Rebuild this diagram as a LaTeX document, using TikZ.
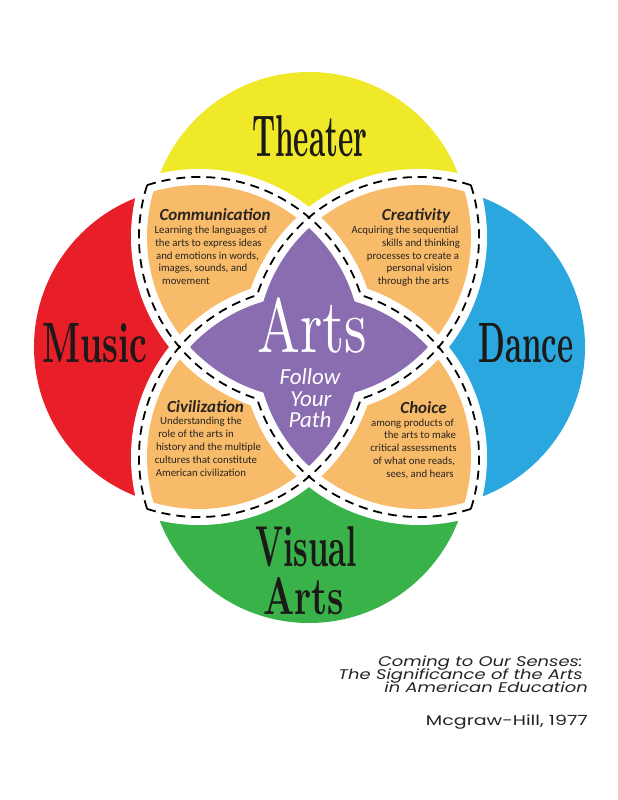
\documentclass[tikz,border=0pt]{standalone}
\usepackage{fontspec}
\usepackage{graphicx}
\newfontfamily\carlito{Carlito}
\newfontfamily\citefont{Poppins}
\definecolor{cyellow}{RGB}{240,233,42}
\definecolor{cred}{RGB}{232,30,40}
\definecolor{cblue}{RGB}{42,167,222}
\definecolor{cgreen}{RGB}{58,178,74}
\definecolor{corange}{RGB}{248,187,106}
\definecolor{cpurple}{RGB}{138,108,176}
\definecolor{headc}{RGB}{28,26,24}
\definecolor{textc}{RGB}{40,36,32}
\tikzset{
  dashline/.style={draw=black, line width=1.8pt, dash pattern=on 9pt off 6pt},
  heading/.style={anchor=base west, inner sep=0pt, text=headc, font=\bfseries},
  petaltitle/.style={anchor=base, inner sep=0pt, font=\carlito\bfseries\itshape\fontsize{17}{17}\selectfont, text=textc},
  petalline/.style={anchor=base, inner sep=0pt, font=\carlito\fontsize{10.8}{12}\selectfont, text=textc},
  pathline/.style={anchor=base, inner sep=0pt, font=\carlito\itshape\fontsize{23}{23}\selectfont, text=white},
  citeline/.style={anchor=base east, inner sep=0pt, text=textc},
}
\begin{document}
\begin{tikzpicture}[x=1pt,y=-1pt]
\useasboundingbox (0,0) rectangle (618,800);
\fill[white] (0,0) rectangle (618,800);
% coloured circles
\fill[cyellow] (309,232) circle[radius=160];
\fill[cred] (194,347) circle[radius=160];
\fill[cblue] (425,347) circle[radius=160];
\fill[cgreen] (309,463) circle[radius=160];
% centres of the dashed circles
\coordinate (T) at (309,237);
\coordinate (B) at (309,457);
\coordinate (L) at (199,347);
\coordinate (R) at (419,347);
% white halo of the petals
\foreach \a/\b in {T/L,T/R,B/L,B/R}{
  \begin{scope}
    \clip (\a) circle[radius=178];
    \fill[white] (\b) circle[radius=178];
  \end{scope}
}
% orange petals
\foreach \a/\b in {T/L,T/R,B/L,B/R}{
  \begin{scope}
    \clip (\a) circle[radius=162];
    \fill[corange] (\b) circle[radius=162];
  \end{scope}
}
% white halo of the centre
\foreach \a/\b/\c in {T/L/R,T/L/B,T/R/B,L/R/B}{
  \begin{scope}
    \clip (\a) circle[radius=178];
    \clip (\b) circle[radius=178];
    \fill[white] (\c) circle[radius=178];
  \end{scope}
}
% purple centre
\foreach \a/\b/\c in {T/L/R,T/L/B,T/R/B,L/R/B}{
  \begin{scope}
    \clip (\a) circle[radius=162];
    \clip (\b) circle[radius=162];
    \fill[cpurple] (\c) circle[radius=162];
  \end{scope}
}
% dashed outlines
\draw[dashline] (L) ++(-107.77:170) arc[start angle=-107.77, end angle=-17.77, radius=170];
\draw[dashline] (L) ++(107.77:170) arc[start angle=107.77, end angle=17.77, radius=170];
\draw[dashline] (R) ++(287.77:170) arc[start angle=287.77, end angle=197.77, radius=170];
\draw[dashline] (R) ++(72.23:170) arc[start angle=72.23, end angle=162.23, radius=170];
\draw[dashline] (T) ++(197.77:170) arc[start angle=197.77, end angle=107.77, radius=170];
\draw[dashline] (T) ++(-17.77:170) arc[start angle=-17.77, end angle=72.23, radius=170];
\draw[dashline] (B) ++(162.23:170) arc[start angle=162.23, end angle=252.23, radius=170];
\draw[dashline] (B) ++(17.77:170) arc[start angle=17.77, end angle=-72.23, radius=170];
% headings
\node[heading] (theater) at (252,156) {\resizebox{115pt}{41pt}{Theater}};
\node[heading] (music) at (42,362) {\resizebox{105pt}{39pt}{Music}};
\node[heading] (dance) at (478,362) {\resizebox{95pt}{39pt}{Dance}};
\node[heading] (visual) at (255,566) {\resizebox{102pt}{40pt}{Visual}};
\node[heading] (varts) at (263,614) {\resizebox{81pt}{37pt}{Arts}};
\node[heading, text=white, font=\mdseries] (arts) at (257,352) {\resizebox{110pt}{55pt}{Arts}};
% follow your path
\node[pathline] (follow) at (310,384) {Follow};
\node[pathline] (your) at (311,406) {Your};
\node[pathline] (path) at (310,427) {Path};
% Communication
\node[petaltitle] (comm) at (215,220) {Communication};
\node[petalline] (c1) at (211,233.5) {Learning the languages of};
\node[petalline] (c2) at (208.5,246.5) {the arts to express ideas};
\node[petalline] (c3) at (207.5,259.5) {and emotions in words,};
\node[petalline] (c4) at (203,271.5) {images, sounds, and};
\node[petalline] (c5) at (186,284.5) {movement};
% Creativity
\node[petaltitle] (crea) at (416,220) {Creativity};
\node[petalline] (r1) at (405,233.5) {Acquiring the sequential};
\node[petalline] (r2) at (421,246.5) {skills and thinking};
\node[petalline] (r3) at (413,259.5) {processes to create a};
\node[petalline] (r4) at (419.5,271.5) {personal vision};
\node[petalline] (r5) at (413.5,284.5) {through the arts};
% Civilization
\node[petaltitle] (civ) at (205.5,412) {Civilization};
\node[petalline] (v1) at (201,424) {Understanding the};
\node[petalline] (v2) at (196,437) {role of the arts in};
\node[petalline] (v3) at (208.5,450) {history and the multiple};
\node[petalline] (v4) at (206,463) {cultures that constitute};
\node[petalline] (v5) at (201,476) {American civilization};
% Choice
\node[petaltitle] (cho) at (423.5,413) {Choice};
\node[petalline] (h1) at (412.5,426) {among products of};
\node[petalline] (h2) at (420,438.5) {the arts to make};
\node[petalline] (h3) at (413.5,451) {critical assessments};
\node[petalline] (h4) at (414,464) {of what one reads,};
\node[petalline] (h5) at (420,477) {sees, and hears};
% citation
\node[citeline, font=\citefont\itshape\fontsize{14}{14}\selectfont] (s1) at (583,666) {\scalebox{1.28}[1]{Coming to Our Senses:}};
\node[citeline, font=\citefont\itshape\fontsize{14}{14}\selectfont] (s2) at (583,679) {\scalebox{1.28}[1]{The Significance of the Arts}};
\node[citeline, font=\citefont\itshape\fontsize{14}{14}\selectfont] (s3) at (588,692) {\scalebox{1.28}[1]{in American Education}};
\node[citeline, font=\citefont\fontsize{14}{14}\selectfont] (s4) at (588,725) {\scalebox{1.36}[1]{Mcgraw-Hill, 1977}};
\end{tikzpicture}
\end{document}
